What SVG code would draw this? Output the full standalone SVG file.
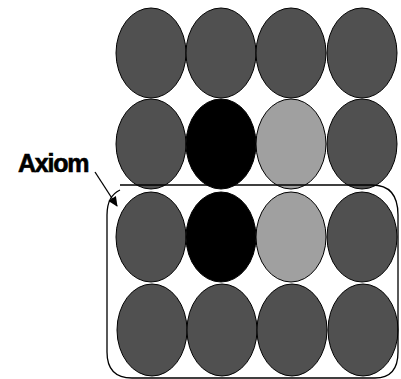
<svg xmlns="http://www.w3.org/2000/svg" width="401" height="379" viewBox="0 0 401 379">
<defs>
<style>
.d{fill:#505050;stroke:#000;stroke-width:1}
.b{fill:#000;stroke:#000;stroke-width:1}
.l{fill:#a0a0a0;stroke:#000;stroke-width:1}
.ln{fill:none;stroke:#000;stroke-width:1.3}
</style>
<marker id="ah" viewBox="0 0 10 10" refX="9" refY="5" markerWidth="11" markerHeight="10" markerUnits="userSpaceOnUse" orient="auto"><path d="M0,0.5 L10,5 L0,9.5 Z" fill="#000"/></marker>
</defs>
<rect width="401" height="379" fill="#fff"/>
<g id="r1">
<ellipse id="n11" class="d" cx="151" cy="53" rx="35" ry="45"/>
<ellipse id="n12" class="d" cx="221" cy="53" rx="35" ry="45"/>
<ellipse id="n13" class="d" cx="291" cy="53" rx="35" ry="45"/>
<ellipse id="n14" class="d" cx="362" cy="53" rx="35" ry="45"/>
</g>
<g id="r2">
<ellipse id="n21" class="d" cx="151" cy="144" rx="35" ry="45"/>
<ellipse id="n22" class="b" cx="221" cy="144" rx="35" ry="45"/>
<ellipse id="n23" class="l" cx="291" cy="144" rx="35" ry="45"/>
<ellipse id="n24" class="d" cx="362" cy="144" rx="35" ry="45"/>
</g>
<g id="r3">
<ellipse id="n31" class="d" cx="151" cy="237" rx="35" ry="45"/>
<ellipse id="n32" class="b" cx="221" cy="237" rx="35" ry="45"/>
<ellipse id="n33" class="l" cx="291" cy="237" rx="35" ry="45"/>
<ellipse id="n34" class="d" cx="362" cy="237" rx="35" ry="45"/>
</g>
<g id="r4">
<ellipse id="n41" class="d" cx="152" cy="330" rx="35" ry="46"/>
<ellipse id="n42" class="d" cx="222" cy="330" rx="35" ry="46"/>
<ellipse id="n43" class="d" cx="292" cy="330" rx="35" ry="46"/>
<ellipse id="n44" class="d" cx="363" cy="330" rx="35" ry="46"/>
</g>
<g id="connectors">
<path class="ln" d="M120,185 H372 Q398,185 398,215 V352 Q398,378 375,378 H132 Q107,378 107,352 V215 Q107,196 120,190"/>
<path class="ln" d="M95,172 L117,206" marker-end="url(#ah)"/>
</g>
<g id="label">
<text x="18" y="172" font-family="Liberation Sans, Arial, sans-serif" font-weight="bold" font-size="25" fill="#000" stroke="#000" stroke-width="0.6" letter-spacing="-1.2">Axiom</text>
</g>
</svg>
